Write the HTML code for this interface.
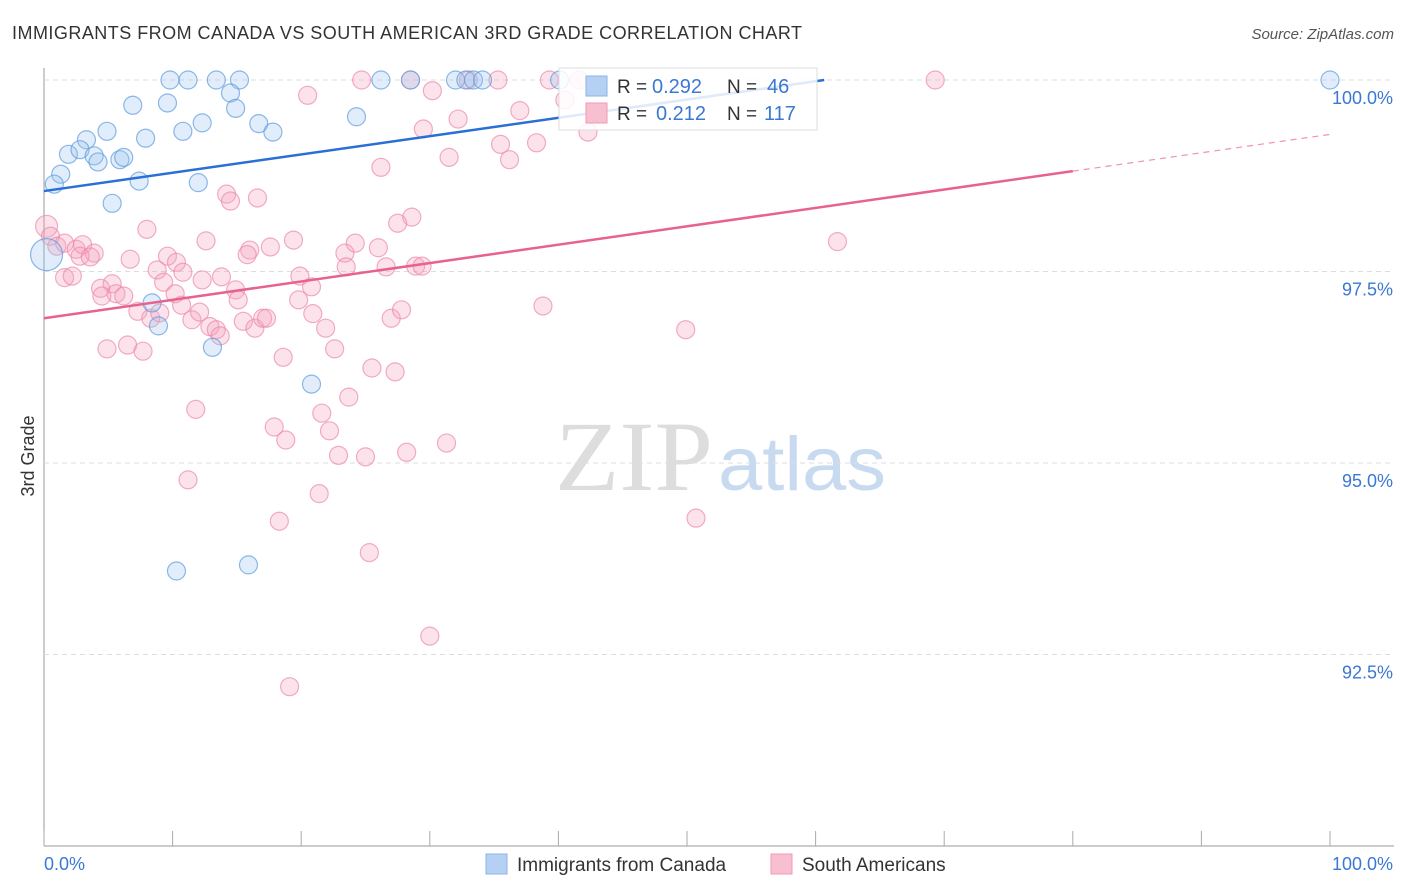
<!DOCTYPE html>
<html><head><meta charset="utf-8"><style>
body{margin:0;background:#fff;font-family:"Liberation Sans",sans-serif;}
#wrap{position:relative;width:1406px;height:892px;overflow:hidden;}
</style></head><body>
<div id="wrap">
<svg id="svg" width="1406" height="892" xmlns="http://www.w3.org/2000/svg">
<text x="12" y="39" font-size="18" fill="#333" textLength="790">IMMIGRANTS FROM CANADA VS SOUTH AMERICAN 3RD GRADE CORRELATION CHART</text>
<text x="1394" y="39" font-size="15" fill="#555" font-style="italic" text-anchor="end">Source: ZipAtlas.com</text>
<text x="555" y="490" font-size="100" fill="#ddd" textLength="158" lengthAdjust="spacingAndGlyphs" font-family="Liberation Serif,serif">ZIP</text>
<text x="718" y="490" font-size="76" fill="#c8daf0" textLength="168" lengthAdjust="spacingAndGlyphs">atlas</text>
<text x="34" y="456" font-size="18" fill="#333" transform="rotate(-90 34 456)" text-anchor="middle">3rd Grade</text>
<g id="grid"></g><g id="marks"></g><g id="lines"></g>
<g>
<rect x="559" y="68" width="258" height="62" fill="#fff" fill-opacity="0.85" stroke="#ddd"/>
<rect x="586" y="76" width="21" height="20" fill="#b5d0f2" stroke="#8ab4e8"/>
<rect x="586" y="103" width="21" height="20" fill="#f7bfd0" stroke="#f09ab5"/>
<text x="617" y="93" font-size="19" fill="#333">R =</text>
<text x="652" y="93" font-size="20" fill="#3a78d4">0.292</text>
<text x="727" y="93" font-size="19" fill="#333">N =</text>
<text x="767" y="93" font-size="20" fill="#3a78d4">46</text>
<text x="617" y="120" font-size="19" fill="#333">R =</text>
<text x="656" y="120" font-size="20" fill="#3a78d4">0.212</text>
<text x="727" y="120" font-size="19" fill="#333">N =</text>
<text x="764" y="120" font-size="20" fill="#3a78d4">117</text>
</g>
<g>
<rect x="486" y="854" width="21" height="20" fill="#b5d0f2" stroke="#8ab4e8"/>
<text x="517" y="871" font-size="19" fill="#333">Immigrants from Canada</text>
<rect x="771" y="854" width="21" height="20" fill="#f7bfd0" stroke="#f09ab5"/>
<text x="802" y="871" font-size="19" fill="#333">South Americans</text>
</g>
</svg>
</div>
<script>
const yTicks=[100,97.5,95,92.5];
const yTickLabels=["100.0%","97.5%","95.0%","92.5%"];
const xTickLabels=["0.0%","100.0%"];
const canadaX=[9.8,11.2,13.4,15.2,26.2,28.5,32.0,32.8,33.4,34.1,40.1,100,6.9,9.6,14.5,14.9,4.9,10.8,12.3,16.7,17.8,24.3,3.3,1.9,2.8,3.9,4.2,5.9,6.2,7.9,1.3,0.8,7.4,12.0,5.3,0.2,8.4,8.9,13.1,20.8,10.3,15.9];
const canadaY=[100,100,100,100,100,100,100,100,100,100,100,100,99.67,99.70,99.83,99.63,99.33,99.33,99.44,99.43,99.32,99.52,99.22,99.03,99.09,99.01,98.93,98.96,98.99,99.24,98.77,98.64,98.68,98.66,98.39,97.72,97.09,96.79,96.51,96.03,93.59,93.67];
const southX=[24.7,28.5,33.0,35.3,39.3,41.6,69.3,20.5,30.2,37.0,32.2,29.5,40.5,42.3,35.5,38.3,31.5,36.2,26.2,14.2,14.5,16.6,28.6,27.5,8.0,0.2,0.5,1.0,1.6,2.5,3.0,3.9,2.8,3.6,12.6,19.4,17.6,16.0,15.8,24.2,26.0,23.4,9.6,6.7,10.3,8.8,10.8,19.9,26.6,28.9,29.4,23.5,61.7,1.6,2.2,5.3,4.4,5.6,6.2,4.5,9.3,12.3,13.8,14.9,15.1,19.8,10.2,10.7,20.8,7.3,8.3,9.0,11.5,12.1,12.9,13.4,13.7,15.5,16.4,17.0,17.3,20.9,21.9,27.0,27.8,38.8,49.9,4.9,6.5,7.7,22.6,18.6,25.5,27.3,11.8,23.7,21.6,17.9,18.8,22.2,22.9,25.0,28.2,31.3,11.2,21.4,18.3,50.7,25.3,30.0,19.1];
const southY=[100,100,100,100,100,100,100,99.80,99.86,99.60,99.49,99.36,99.74,99.32,99.16,99.18,98.99,98.96,98.86,98.51,98.42,98.46,98.21,98.13,98.05,98.09,97.96,97.83,97.87,97.79,97.85,97.74,97.70,97.69,97.90,97.91,97.82,97.78,97.72,97.87,97.81,97.74,97.70,97.66,97.62,97.52,97.49,97.44,97.56,97.57,97.57,97.56,97.89,97.42,97.44,97.34,97.28,97.21,97.18,97.18,97.36,97.39,97.43,97.26,97.13,97.13,97.21,97.06,97.30,96.98,96.89,96.96,96.87,96.97,96.78,96.74,96.66,96.85,96.76,96.89,96.89,96.95,96.76,96.89,97.00,97.05,96.74,96.49,96.54,96.46,96.49,96.38,96.24,96.19,95.70,95.86,95.65,95.47,95.30,95.42,95.10,95.08,95.14,95.26,94.78,94.60,94.24,94.28,93.83,92.74,92.08];
const canadaTrend=[98.55,100.94];
const southTrend=[96.89,99.29];
const NS="http://www.w3.org/2000/svg";
const xs=v=>44+v*12.86;
const ys=v=>80+(100-v)*76.6;
function mk(t,a,p){const e=document.createElementNS(NS,t);for(const k in a)e.setAttribute(k,a[k]);p.appendChild(e);return e;}
const grid=document.getElementById('grid'),marks=document.getElementById('marks'),lines=document.getElementById('lines');
let ax=mk('line',{x1:44,y1:68,x2:44,y2:846,stroke:'#999'},grid);


let bx=mk('line',{x1:44,y1:846,x2:1394,y2:846,stroke:'#999'},grid);


for(let i=0;i<=10;i++){const t=mk('line',{x1:44+i*128.6,y1:831,x2:44+i*128.6,y2:846,stroke:'#aaa'},grid);

}
yTicks.forEach((v,i)=>{const g=mk('line',{x1:44,y1:ys(v),x2:1394,y2:ys(v),stroke:'#ddd','stroke-dasharray':'5,4'},grid);


const t=mk('text',{x:1393,y:ys(v)+24,'font-size':18,fill:'#3a78d4','text-anchor':'end'},grid);t.textContent=yTickLabels[i];

});
[[0,'start',44],[1,'end',1393]].forEach(([i,a,x])=>{const t=mk('text',{x:x,y:870,'font-size':18,fill:'#3a78d4','text-anchor':a},grid);t.textContent=xTickLabels[i];

});
function pts(X,Y,fill,stroke,name,bigIdx,bigR){X.forEach((x,i)=>{const r=i===bigIdx?bigR:9;const c=mk('circle',{cx:xs(x),cy:ys(Y[i]),r:r,fill:fill,'fill-opacity':0.3,stroke:stroke,'stroke-opacity':0.7,'stroke-width':1.2},marks);

});}
pts(southX,southY,'#f4a3bd','#ec8aaa','south-american-point',25,11);
pts(canadaX,canadaY,'#9cc2ee','#5b9be0','canada-point',35,16);
const cEnd=(100-canadaTrend[0])/(canadaTrend[1]-canadaTrend[0])*100;
let l1=mk('line',{x1:xs(0),y1:ys(canadaTrend[0]),x2:xs(cEnd),y2:ys(100),stroke:'#2a6fd6','stroke-width':2.5},lines);


const sAt=x=>southTrend[0]+(southTrend[1]-southTrend[0])*x/100;
let l2=mk('line',{x1:xs(0),y1:ys(sAt(0)),x2:xs(80),y2:ys(sAt(80)),stroke:'#e8628f','stroke-width':2.5},lines);


let l3=mk('line',{x1:xs(80),y1:ys(sAt(80)),x2:xs(100),y2:ys(sAt(100)),stroke:'#e8628f','stroke-width':1.2,'stroke-dasharray':'6,5','stroke-opacity':0.7},lines);


</script>
</body></html>
